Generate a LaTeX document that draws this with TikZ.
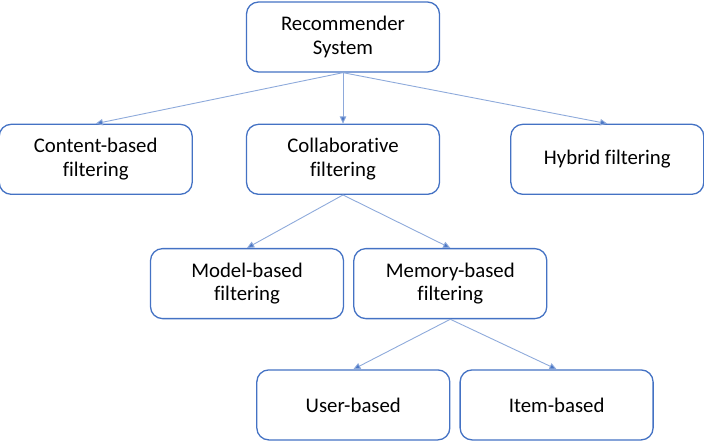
\documentclass[tikz,border=0pt]{standalone}
\usepackage{fontspec}
\setmainfont{Carlito}[Ligatures=NoCommon]
\usetikzlibrary{positioning,arrows.meta}
\definecolor{boxline}{HTML}{4472C4}
\definecolor{edge}{HTML}{8EAADB}
\definecolor{tip}{HTML}{4A76C6}

\begin{document}
\begin{tikzpicture}[
  font=\fontsize{10.4}{11.8}\selectfont,
  box/.style={rounded corners=6pt, draw=boxline, line width=0.65pt, fill=white, text=black, align=center, minimum width=96.5pt, minimum height=35pt, inner sep=2pt},
  arr/.style={-{Triangle[length=3.6pt, width=3.2pt, fill=tip]}, line width=0.45pt, draw=edge},
]
\useasboundingbox (0,0) rectangle (352pt,-220.5pt);
\node[box] (rec) at (171.5pt,-18.5pt) {Recommender\\System};
\node[box, below=25.5pt of rec] (coll) {Collaborative\\filtering};
\node[box, left=26.5pt of coll] (content) {Content-based\\filtering};
\node[box, right=35pt of coll] (hybrid) {Hybrid filtering};
\node[box, below=26.5pt of coll, xshift=-48pt] (model) {Model-based\\filtering};
\node[box, right=4.5pt of model] (memory) {Memory-based\\filtering};
\node[box, below=25pt of memory, xshift=-48.5pt] (user) {User-based};
\node[box, right=4.5pt of user] (item) {Item-based};
\draw[arr] (rec.south) -- (content.north);
\draw[arr] (rec.south) -- (coll.north);
\draw[arr] (rec.south) -- (hybrid.north);
\draw[arr] (coll.south) -- (model.north);
\draw[arr] (coll.south) -- (memory.north);
\draw[arr] (memory.south) -- (user.north);
\draw[arr] (memory.south) -- (item.north);
\end{tikzpicture}
\end{document}
